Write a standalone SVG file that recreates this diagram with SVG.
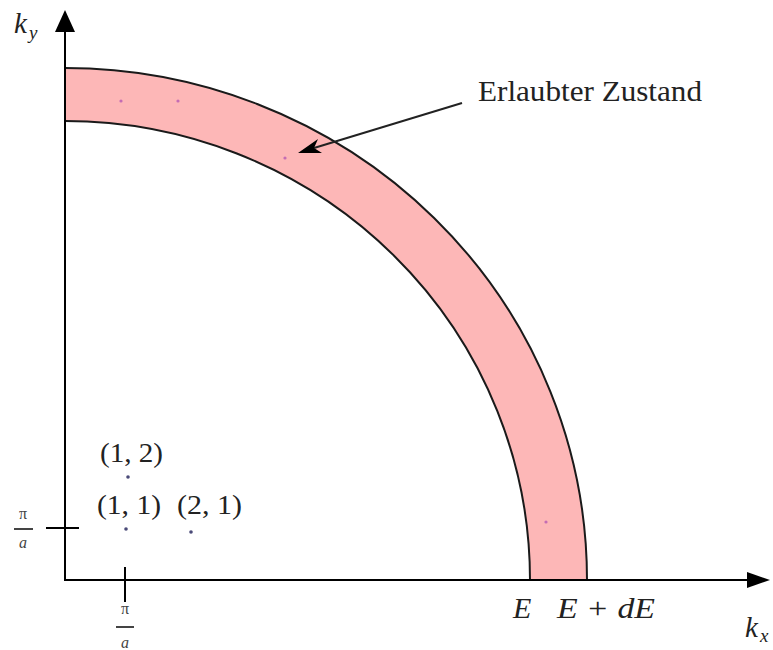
<svg xmlns="http://www.w3.org/2000/svg" width="773" height="650" viewBox="0 0 773 650">
<style>
.ax{stroke:#000;stroke-width:2;fill:none}
.arc{stroke:#1a1a1a;stroke-width:2;fill:none}
.band{fill:#fdb7b7;stroke:none}
.math{font-family:"Liberation Serif","DejaVu Serif",serif;font-style:italic;fill:#222}
.rm{font-family:"Liberation Serif","DejaVu Serif",serif;fill:#222}
.sm{font-family:"Liberation Serif","DejaVu Serif",serif;fill:#444;font-size:16px}
.dot{fill:#4a4a78}
.pdot{fill:#c46cb4}
</style>
<rect width="773" height="650" fill="#fff"/>
<g id="band">
<path class="band" d="M65,68 A522,512 0 0 1 587,580 L530,580 A465,459 0 0 0 65,121 Z"/>
<path class="arc" d="M65,68 A522,512 0 0 1 587,580"/>
<path class="arc" d="M65,121 A465,459 0 0 1 530,580"/>
<circle class="pdot" cx="121" cy="101" r="1.6"/>
<circle class="pdot" cx="178" cy="101" r="1.6"/>
<circle class="pdot" cx="285" cy="158" r="1.6"/>
<circle class="pdot" cx="546" cy="522" r="1.6"/>
</g>
<g id="axes">
<line class="ax" x1="65" y1="580" x2="65" y2="28"/>
<polygon points="65,10 55,32 75,32" fill="#000"/>
<line class="ax" x1="64" y1="580" x2="750" y2="580"/>
<polygon points="770,580 747,572 747,588" fill="#000"/>
<line class="ax" x1="46" y1="528" x2="79" y2="528"/>
<line class="ax" x1="125" y1="567" x2="125" y2="602"/>
</g>
<g id="labels">
<text class="math" x="14" y="33" font-size="29">k</text>
<text class="math" x="29" y="39" font-size="19">y</text>
<text class="math" x="745" y="637" font-size="29">k</text>
<text class="math" x="760" y="642" font-size="19">x</text>
<text class="math" x="513" y="618" font-size="30">E</text>
<text class="math" x="557" y="618" font-size="30" textLength="98" lengthAdjust="spacingAndGlyphs">E + dE</text>
<text class="sm" x="23" y="519" text-anchor="middle">π</text>
<line x1="14" y1="529" x2="33" y2="529" stroke="#444" stroke-width="2"/>
<text class="sm" x="23" y="548" text-anchor="middle" font-style="italic">a</text>
<text class="sm" x="125" y="614" text-anchor="middle">π</text>
<line x1="116" y1="627" x2="134" y2="627" stroke="#444" stroke-width="2"/>
<text class="sm" x="125" y="648" text-anchor="middle" font-style="italic">a</text>
</g>
<g id="points">
<text class="rm" x="100" y="462" font-size="28" textLength="63" lengthAdjust="spacingAndGlyphs">(1, 2)</text>
<circle class="dot" cx="128" cy="477" r="1.8"/>
<text class="rm" x="97" y="514" font-size="28" textLength="64" lengthAdjust="spacingAndGlyphs">(1, 1)</text>
<circle class="dot" cx="126" cy="529" r="1.8"/>
<text class="rm" x="177" y="514" font-size="28" textLength="65" lengthAdjust="spacingAndGlyphs">(2, 1)</text>
<circle class="dot" cx="191" cy="532" r="1.8"/>
</g>
<g id="annotation">
<text class="rm" x="478" y="101" font-size="29" textLength="224" lengthAdjust="spacingAndGlyphs">Erlaubter Zustand</text>
<line x1="462" y1="103" x2="314" y2="148" stroke="#222" stroke-width="2"/>
<polygon points="298,153 318,139 314,148 322,153" fill="#000"/>
</g>
</svg>
